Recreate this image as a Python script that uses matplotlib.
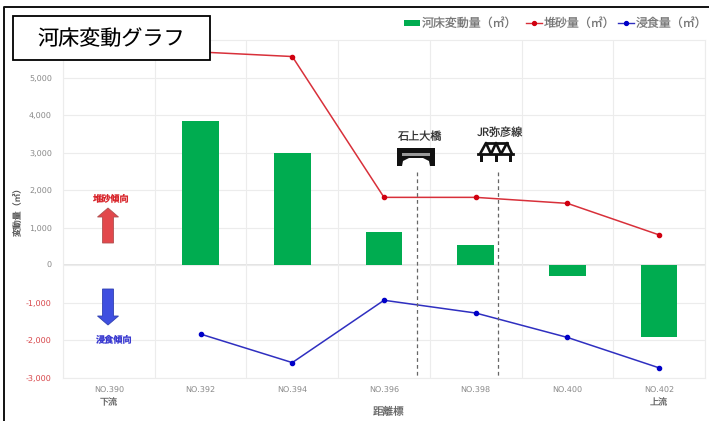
import matplotlib
matplotlib.use('Agg')
import matplotlib.pyplot as plt
from matplotlib.patches import Rectangle, Polygon
from matplotlib.lines import Line2D

plt.rcParams['font.family'] = ['Noto Sans CJK JP', 'DejaVu Sans']
plt.rcParams['text.hinting'] = 'none'
plt.rcParams['text.hinting_factor'] = 1

W, H = 709, 421

stations = ['NO.390', 'NO.392', 'NO.394', 'NO.396', 'NO.398', 'NO.400', 'NO.402']
change = [None, 3850, 3000, 880, 550, -280, -1920]
deposit = [None, 5680, 5560, 1810, 1810, 1650, 810]
erosion = [None, -1830, -2590, -930, -1270, -1920, -2730]
yticks = [-3000, -2000, -1000, 0, 1000, 2000, 3000, 4000, 5000]

GREEN = '#00ac50'
RED = '#d8303a'
BLUE = '#2f2fc0'
GRID = '#ececec'
TICK = '#8a8a8a'


def px(x, y):
    return x / W, 1 - y / H


fig = plt.figure(figsize=(W / 100, H / 100), dpi=100)
left, top, right, bottom = 63, 40, 705, 378
ax = fig.add_axes([left / W, 1 - bottom / H, (right - left) / W, (bottom - top) / H])

xs = list(range(len(stations)))
bar_x = [x for x, v in zip(xs, change) if v is not None]
ax.bar(bar_x, [v for v in change if v is not None], width=0.4, color=GREEN, zorder=3)
ax.plot(bar_x, [v for v in deposit if v is not None], color=RED, lw=1.1, marker='o', ms=3,
        mfc='#d00010', mec='#d00010', zorder=4)
ax.plot(bar_x, [v for v in erosion if v is not None], color=BLUE, lw=1.1, marker='o', ms=3,
        mfc='#0000c8', mec='#0000c8', zorder=4)

ax.set_xlim(-0.5, 6.5)
ax.set_ylim(-3000, 6000)
ax.set_yticks(yticks)
ax.set_yticklabels([f'{v:,}' for v in yticks], fontsize=5.8, color=TICK, family=['DejaVu Sans'])
for lab, v in zip(ax.get_yticklabels(), yticks):
    if v < 0:
        lab.set_color('#d8484c')
ax.set_xticks(xs)
ax.set_xticklabels(stations, fontsize=5.8, color=TICK, family=['DejaVu Sans'])
ax.tick_params(axis='x', length=0, pad=6)
ax.tick_params(axis='y', length=0, pad=8)
ax.set_xticks([x - 0.5 for x in xs] + [6.5], minor=True)
ax.tick_params(which='minor', length=0)
ax.grid(True, which='minor', axis='x', color=GRID, lw=0.8, zorder=0)
ax.grid(True, which='major', axis='y', color=GRID, lw=0.8, zorder=0)
ax.axhline(0, color='#dddddd', lw=1.1, zorder=1)
for s in ax.spines.values():
    s.set_color(GRID)
    s.set_linewidth(0.8)


def label(x, y, s, size, color, **kw):
    fig.text(*px(x, y), s, fontsize=size, color=color, ha='center', va='center', **kw)


label(17, 209, '変動量（㎡）', 6.4, '#555555', rotation=90)
label(389, 412, '距離標', 7.6, '#666666')
label(109, 403, '下流', 6.5, '#666666')
label(659, 403, '上流', 6.5, '#666666')
label(111, 198, '堆砂傾向', 6.6, '#d8262c', fontweight='bold')
label(114, 339, '浸食傾向', 6.6, '#3a3ad0', fontweight='bold')
label(420, 137, '石上大橋', 8, '#333333')
label(500, 133, 'JR弥彦線', 8, '#333333')


def arrow(x, y0, y1, color, edge):
    # vertical block arrow given in pixels
    hw = 10.5
    sw = 5.5
    head = 9 if y1 > y0 else -9
    pts = [(x - sw, y0), (x + sw, y0), (x + sw, y1 - head), (x + hw, y1 - head), (x, y1),
           (x - hw, y1 - head), (x - sw, y1 - head)]
    fig.add_artist(Polygon([px(a, b) for a, b in pts], closed=True, transform=fig.transFigure,
                           fc=color, ec=edge, lw=0.6, zorder=6))


# trend arrows
arrow(108, 243, 208, '#e2484c', '#b05050')
arrow(108, 289, 325, '#3f4fe0', '#3040b0')

# bridge sites
for x in (416.5, 497.5):
    fig.add_artist(Line2D([x / W, x / W], [1 - 172 / H, 1 - 378 / H], color='#666666', lw=0.9,
                          ls=(0, (3, 2.5)), zorder=5))

# road bridge icon
fig.add_artist(Polygon([px(a, b) for a, b in [
    (397, 148), (435, 148), (435, 166), (430, 166), (429, 161), (423, 158), (409, 158),
    (403, 161), (402, 166), (397, 166)]], closed=True, fc='#111111', ec='none', zorder=6))
fig.add_artist(Rectangle(px(402, 156), 28 / W, 3 / H, fc='#999999', ec='none', zorder=7))

# railway truss icon
fig.add_artist(Line2D(*zip(px(478, 154), px(513, 154)), color='#111111', lw=2, zorder=6))
fig.add_artist(Line2D(*zip(px(486, 143), px(507, 143)), color='#111111', lw=2, zorder=6))
truss = [(480, 154), (486, 143), (491, 154), (496, 143), (501, 154), (507, 143), (512, 154)]
fig.add_artist(Line2D(*zip(*[px(a, b) for a, b in truss]), color='#111111', lw=1.9, zorder=6))
for x in (482, 496, 510):
    fig.add_artist(Rectangle(px(x - 1.5, 162), 3 / W, 8 / H, fc='#111111', ec='none', zorder=6))

# legend row
fig.add_artist(Rectangle(px(404, 25.5), 16 / W, 5.5 / H, fc=GREEN, ec='none'))
fig.text(*px(422, 23), '河床変動量（㎡）', fontsize=8.6, color='#777777', va='center')
fig.add_artist(Line2D(*zip(px(526, 23), px(542, 23)), color=RED, lw=1, zorder=6))
fig.add_artist(Line2D([534 / W], [1 - 23 / H], color='#d00010', marker='o', ms=2.8, zorder=7))
fig.text(*px(544, 23), '堆砂量（㎡）', fontsize=8.6, color='#777777', va='center')
fig.add_artist(Line2D(*zip(px(618, 23), px(634, 23)), color=BLUE, lw=1, zorder=6))
fig.add_artist(Line2D([626 / W], [1 - 23 / H], color='#0000c8', marker='o', ms=2.8, zorder=7))
fig.text(*px(636, 23), '浸食量（㎡）', fontsize=8.6, color='#777777', va='center')

# outer frame and title box
fig.add_artist(Line2D([4 / W, 4 / W, 1], [0, 1 - 7 / H, 1 - 7 / H], color='#111111', lw=1.4, zorder=8))
fig.add_artist(Rectangle(px(12.5, 60), 197.5 / W, 44 / H, fc='white', ec='black', lw=1.3, zorder=9))
fig.text(*px(111, 39), '河床変動グラフ', fontsize=15.2, color='black', ha='center', va='center', zorder=10)

fig.savefig('out.png', dpi=100, facecolor='white')
